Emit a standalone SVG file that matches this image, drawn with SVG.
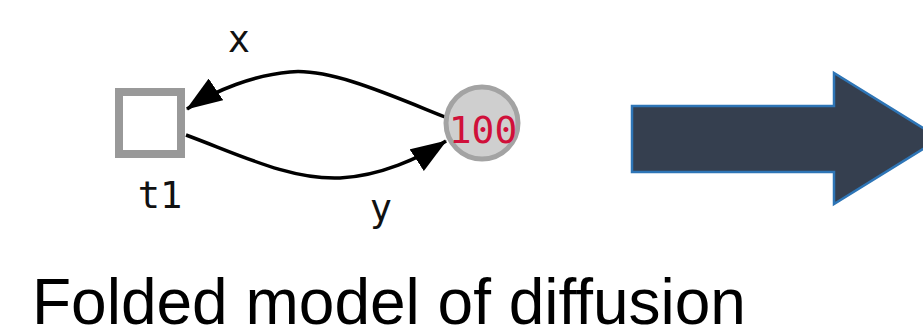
<svg xmlns="http://www.w3.org/2000/svg" width="923" height="331" viewBox="0 0 923 331">
  <style>
    .lbl { font-family: "DejaVu Sans Mono", "Liberation Mono", monospace; font-size: 37px; fill: #111; text-anchor: middle; }
    .edge { fill: none; stroke: #000; stroke-width: 3.5; }
  </style>
  <defs>
    <marker id="ah" viewBox="0 0 36 26" refX="35" refY="13" markerWidth="36" markerHeight="26" markerUnits="userSpaceOnUse" orient="auto">
      <path d="M0,0 L36,13 L0,26 z" fill="#000"/>
    </marker>
  </defs>
  <rect width="923" height="331" fill="#fff"/>
  <g id="connectors">
    <path class="edge" d="M445,117 C390,95 330,68 290,72 C255,75 215,90 187,109" marker-end="url(#ah)"/>
    <path class="edge" d="M186,135 C240,155 290,180 340,178 C380,176 420,158 446,141" marker-end="url(#ah)"/>
    <text class="lbl" x="239" y="52">x</text>
    <text class="lbl" x="381" y="221">y</text>
  </g>
  <g id="t1">
    <rect x="119" y="92" width="62" height="62" fill="#fff" stroke="#999" stroke-width="8"/>
    <text class="lbl" x="160" y="208">t1</text>
  </g>
  <g id="place">
    <circle cx="482" cy="123" r="36" fill="#cfcfcf" stroke="#a3a3a3" stroke-width="5"/>
    <text x="483" y="143" font-family="DejaVu Sans Mono, Liberation Mono, monospace" font-size="38" fill="#d0103a" text-anchor="middle">100</text>
  </g>
  <g id="bigArrow">
    <polygon points="632,106 834,106 834,73 940,138.5 834,204 834,172 632,172" fill="#353f4f" stroke="#2e75b6" stroke-width="2.5"/>
  </g>
  <g id="caption">
    <text x="32" y="324" font-family="Liberation Sans, Arial, sans-serif" font-size="64" fill="#000">Folded model of diffusion</text>
  </g>
</svg>
